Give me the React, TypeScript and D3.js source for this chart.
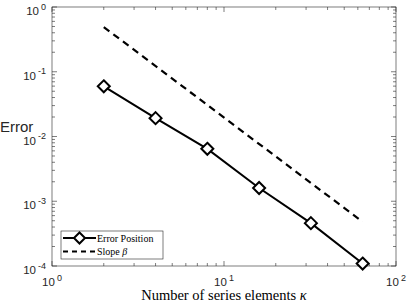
import React from 'react';
import * as d3 from 'd3';

const elements = [2, 4, 8, 16, 32, 64];
const errorPosition = [0.0596, 0.0192, 0.00645, 0.0016, 0.000459, 0.000109];
const slopeX = [2, 64];
const slopeY = [0.49, 0.00048];
const xTickExp = [0, 1, 2];
const yTickExp = [0, -1, -2, -3, -4];

const W = 407;
const H = 305;
const m = { left: 52, right: 11, top: 7, bottom: 39 };

const App: React.FC = () => {
  const x = d3.scaleLog().domain([1, 100]).range([m.left, W - m.right]);
  const y = d3.scaleLog().domain([1e-4, 1]).range([H - m.bottom, m.top]);
  const [x0, x1] = x.range();
  const [y1, y0] = y.range();

  const minorX: number[] = [];
  for (let d = 1; d < 100; d *= 10) for (let k = 2; k <= 9; k++) minorX.push(d * k);
  const minorY: number[] = [];
  for (let d = 1e-4; d < 1; d *= 10) for (let k = 2; k <= 9; k++) minorY.push(d * k);

  const line = d3.line<[number, number]>().x(d => x(d[0])).y(d => y(d[1]));
  const errPts = elements.map((e, i) => [e, errorPosition[i]] as [number, number]);
  const slopePts = slopeX.map((e, i) => [e, slopeY[i]] as [number, number]);

  const axisColor = '#262626';
  const maj = 5;
  const mnr = 3;
  const diamond = (cx: number, cy: number, r: number) =>
    `M${cx},${cy - r}L${cx + r},${cy}L${cx},${cy + r}L${cx - r},${cy}Z`;

  const sans = 'Liberation Sans, Arial, sans-serif';
  const serif = 'Liberation Serif, Times New Roman, serif';

  return (
    <svg width={W} height={H} style={{ position: 'absolute', left: 0, top: 0, background: '#fff' }}>
      <rect x={0} y={0} width={W} height={H} fill="#fff" />
      <g stroke={axisColor} strokeWidth={0.6} fill="none">
        <rect x={x0} y={y0} width={x1 - x0} height={y1 - y0} />
        {xTickExp.map(e => {
          const px = x(Math.pow(10, e));
          return (
            <g key={'xm' + e}>
              <line x1={px} x2={px} y1={y1} y2={y1 - maj} />
              <line x1={px} x2={px} y1={y0} y2={y0 + maj} />
            </g>
          );
        })}
        {minorX.map(v => {
          const px = x(v);
          return (
            <g key={'xn' + v}>
              <line x1={px} x2={px} y1={y1} y2={y1 - mnr} />
              <line x1={px} x2={px} y1={y0} y2={y0 + mnr} />
            </g>
          );
        })}
        {yTickExp.map(e => {
          const py = y(Math.pow(10, e));
          return (
            <g key={'ym' + e}>
              <line x1={x0} x2={x0 + maj} y1={py} y2={py} />
              <line x1={x1} x2={x1 - maj} y1={py} y2={py} />
            </g>
          );
        })}
        {minorY.map(v => {
          const py = y(v);
          return (
            <g key={'yn' + v}>
              <line x1={x0} x2={x0 + mnr} y1={py} y2={py} />
              <line x1={x1} x2={x1 - mnr} y1={py} y2={py} />
            </g>
          );
        })}
      </g>

      {xTickExp.map(e => (
        <text key={'xl' + e} x={x(Math.pow(10, e))} y={y1 + 20} fontFamily={sans} fontSize={11.5} fill={axisColor} textAnchor="middle">
          10<tspan dy={-5} fontSize={9} dx={2}>{e}</tspan>
        </text>
      ))}
      {yTickExp.map(e => (
        <text key={'yl' + e} x={x0 - 6} y={y(Math.pow(10, e)) + 8} fontFamily={sans} fontSize={11.5} fill={axisColor} textAnchor="end">
          10<tspan dy={-5.5} fontSize={9} dx={2}>{e === 0 ? '0' : '-' + Math.abs(e)}</tspan>
        </text>
      ))}

      <text x={0} y={132} fontFamily={sans} fontSize={15} fill={axisColor}>Error</text>
      <text x={(x0 + x1) / 2} y={300} fontFamily={serif} fontSize={14.5} fill="#000" textAnchor="middle">
        Number of series elements <tspan fontStyle="italic">κ</tspan>
      </text>

      <path d={line(slopePts) || ''} fill="none" stroke="#000" strokeWidth={2.2} strokeDasharray="7,5" />
      <path d={line(errPts) || ''} fill="none" stroke="#000" strokeWidth={2} />
      {errPts.map(p => (
        <path key={'mk' + p[0]} d={diamond(x(p[0]), y(p[1]), 6)} fill="#fff" stroke="#000" strokeWidth={2} />
      ))}

      <g>
        <rect x={61} y={231} width={102} height={28} fill="#fff" stroke={axisColor} strokeWidth={0.6} />
        <line x1={63} x2={96} y1={238} y2={238} stroke="#000" strokeWidth={2} />
        <path d={diamond(79.5, 238, 5.5)} fill="#fff" stroke="#000" strokeWidth={2} />
        <text x={97} y={241.5} fontFamily={serif} fontSize={10} fill="#000">Error Position</text>
        <line x1={63} x2={96} y1={251.5} y2={251.5} stroke="#000" strokeWidth={2.2} strokeDasharray="5,4" />
        <text x={97} y={255} fontFamily={serif} fontSize={10} fill="#000">
          Slope <tspan fontStyle="italic">β</tspan>
        </text>
      </g>
    </svg>
  );
};

export default App;
